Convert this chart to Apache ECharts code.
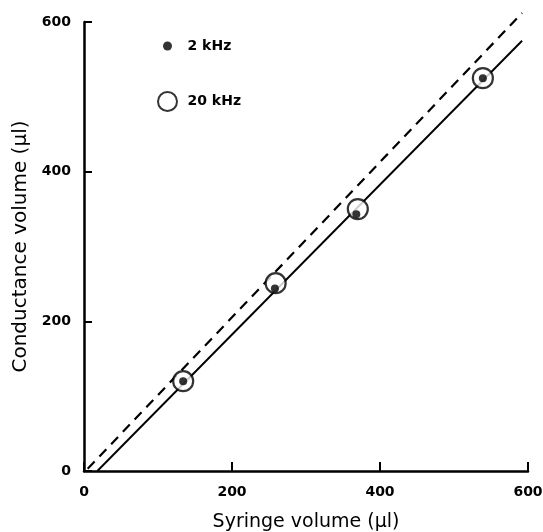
<!DOCTYPE html>
<html>
<head>
<meta charset="utf-8">
<script src="https://cdn.jsdelivr.net/npm/echarts@6/dist/echarts.min.js"></script>
<style>html,body{margin:0;padding:0;background:#fff}#c{width:543px;height:532px}</style>
</head>
<body>
<div id="c"></div>
<script>
// Data
const xTicks = [0, 200, 400, 600];
const yTicks = [0, 200, 400, 600];
const khz2 = [[134, 120], [258, 244], [368, 343], [539, 525]];
const khz20 = [[134, 120], [259, 251], [370, 350], [539, 525]];
const regressionLine = [[18, 0], [592, 575]];
const identityLine = [[5, 3], [592, 612]];

const chart = echarts.init(document.getElementById('c'), null, {renderer: 'canvas'});
const FONT = 'DejaVu Sans, Arial, sans-serif';
const tickFont = {fontFamily: FONT, fontSize: 14, fontWeight: 'bold', color: '#000'};
const legendText = {fontFamily: FONT, fontSize: 14, fontWeight: 'bold', color: '#000'};
chart.setOption({
  animation: false,
  backgroundColor: '#fff',
  grid: {left: 84, right: 15, top: 22, bottom: 61, containLabel: false, outerBoundsMode: 'none'},
  legend: [
    {data: [{name: '2 kHz', icon: 'circle', itemStyle: {color: '#000', borderWidth: 0}}],
     left: 158, top: 34, itemWidth: 30, itemHeight: 9, textStyle: legendText, selectedMode: false},
    {data: [{name: '20 kHz', icon: 'circle', itemStyle: {color: '#fff', borderColor: '#000', borderWidth: 2}}],
     left: 152, top: 86, itemWidth: 30, itemHeight: 19, textStyle: legendText, selectedMode: false}
  ],
  xAxis: {
    type: 'value', min: 0, max: 600, interval: 200,
    name: 'Syringe volume (µl)', nameLocation: 'middle', nameGap: 42,
    nameTextStyle: {fontFamily: FONT, fontSize: 19, color: '#000'},
    axisLine: {show: true, lineStyle: {color: '#000', width: 2.5}},
    axisTick: {show: true, inside: true, length: 9, lineStyle: {color: '#000', width: 2}},
    axisLabel: Object.assign({margin: 14, formatter: v => xTicks.includes(v) ? String(v) : ''}, tickFont),
    splitLine: {show: false}
  },
  yAxis: {
    type: 'value', min: 0, max: 600, interval: 200,
    name: 'Conductance volume (µl)', nameLocation: 'middle', nameGap: 53,
    nameTextStyle: {fontFamily: FONT, fontSize: 20, color: '#000'},
    axisLine: {show: true, lineStyle: {color: '#000', width: 2.5}},
    axisTick: {show: true, inside: true, length: 8, lineStyle: {color: '#000', width: 2}},
    axisLabel: Object.assign({margin: 13, formatter: v => yTicks.includes(v) ? String(v) : ''}, tickFont),
    splitLine: {show: false}
  },
  series: [
    {name: 'identity', type: 'line', data: identityLine, symbol: 'none', silent: true, clip: false,
     lineStyle: {color: '#000', width: 2.2, type: [10, 7]}, z: 1},
    {name: 'regression', type: 'line', data: regressionLine, symbol: 'none', silent: true, clip: false,
     lineStyle: {color: '#000', width: 1.9}, z: 1},
    {name: '20 kHz', type: 'scatter', data: khz20, symbol: 'circle', symbolSize: 20,
     itemStyle: {color: '#fff', borderColor: '#000', borderWidth: 2.2}, z: 3},
    {name: '2 kHz', type: 'scatter', data: khz2, symbol: 'circle', symbolSize: 8,
     itemStyle: {color: '#000'}, z: 4}
  ]
});
</script>
</body>
</html>
